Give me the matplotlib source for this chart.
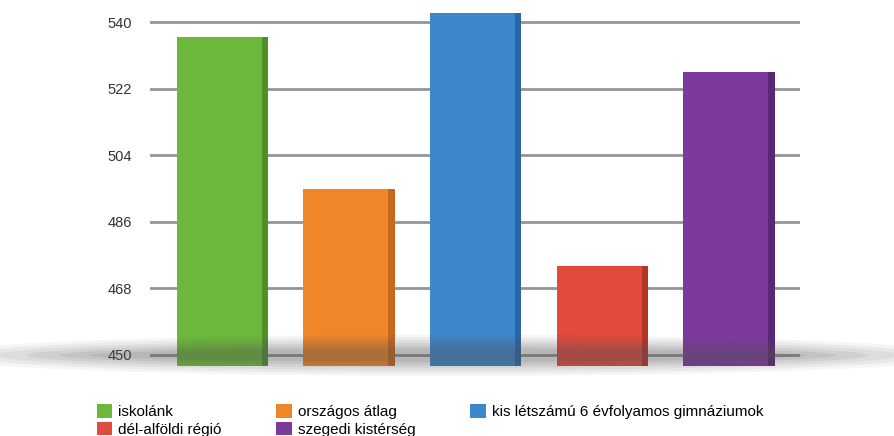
import numpy as np
import matplotlib
matplotlib.use("Agg")
import matplotlib.pyplot as plt
from matplotlib.patches import Patch, Ellipse

plt.rcParams['font.family'] = ['Liberation Sans', 'DejaVu Sans']

# data
labels = ['iskolánk', 'országos átlag', 'kis létszámú 6 évfolyamos gimnáziumok',
          'dél-alföldi régió', 'szegedi kistérség']
values = [536, 494.9, 542.5, 474.1, 526.6]
colors = ['#6cb83c', '#f0862a', '#3d87cc', '#e04b3e', '#7b3a9c']
side_colors = ['#4f8f2a', '#c8681a', '#2c67a3', '#b53429', '#5b2878']
yticks = [450, 468, 486, 504, 522, 540]

fig = plt.figure(figsize=(8.95, 4.36), dpi=100)

# soft floor shadow
for i, a in enumerate([0.06, 0.07, 0.08, 0.09, 0.1, 0.1]):
    e = Ellipse((0.5, 0.185), 1.15 - i * 0.07, 0.095 - i * 0.013,
                transform=fig.transFigure, color='#555555', alpha=a, lw=0, zorder=0)
    fig.patches.append(e)

ax = fig.add_axes([0.1676, 0.1606, 0.7263, 0.814])
ax.set_facecolor('none')
ymin, ymax = 447, 543
x = np.arange(len(values))
w = 0.72
side = 0.05
heights = [v - ymin for v in values]
ax.bar(x, heights, width=w, bottom=ymin, color=colors, zorder=3)
ax.bar(x + w / 2 - side / 2, heights, width=side, bottom=ymin,
       color=side_colors, zorder=4)

ax.set_ylim(ymin, ymax)
ax.set_xlim(-0.57, 4.56)
ax.set_yticks(yticks)
ax.set_yticklabels([str(t) for t in yticks], fontsize=10.5, color='#333333')
ax.set_xticks([])
ax.grid(axis='y', color='#959595', linewidth=2, zorder=1)
ax.tick_params(axis='y', length=0, pad=13)
for s in ax.spines.values():
    s.set_visible(False)

handles = [Patch(facecolor=c, edgecolor='none') for c in colors]
order = [0, 3, 1, 4, 2]
fig.legend([handles[i] for i in order], [labels[i] for i in order],
           ncol=3, loc='upper left', bbox_to_anchor=(0.108, 0.073),
           frameon=False, fontsize=11, handlelength=1.0, handleheight=1.0,
           handletextpad=0.4, columnspacing=3.6, labelspacing=0.15,
           borderaxespad=0, borderpad=0)

fig.savefig('out.png', dpi=100)
